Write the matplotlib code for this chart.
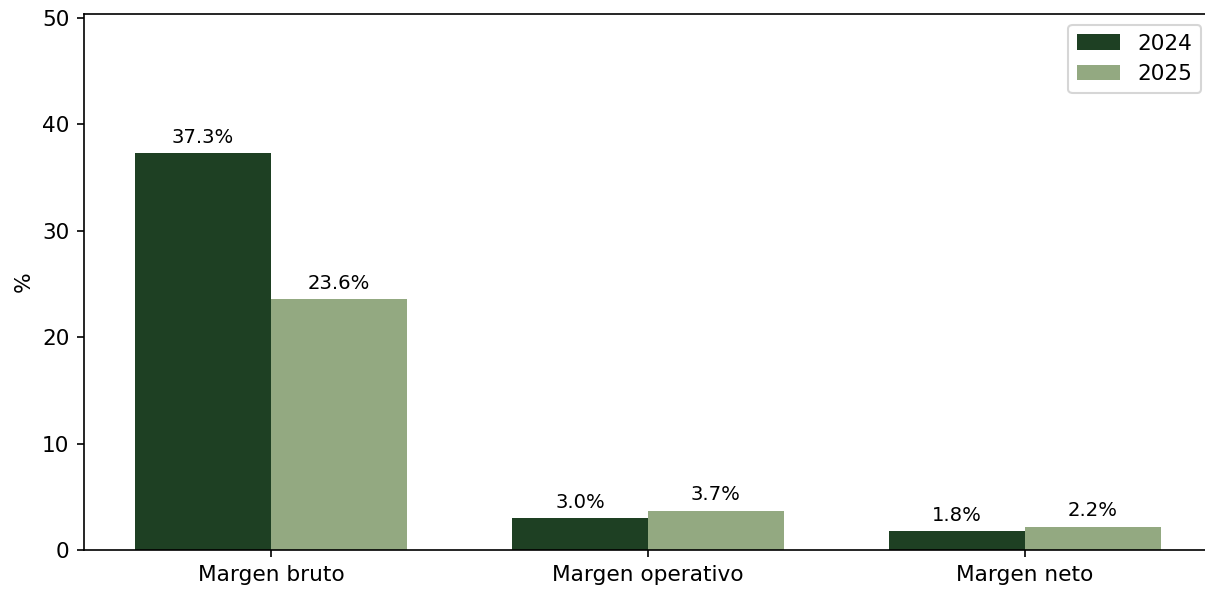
import matplotlib
matplotlib.use("Agg")
import matplotlib.pyplot as plt
import numpy as np

categories = ["Margen bruto", "Margen operativo", "Margen neto"]
values_2024 = [37.3, 3.0, 1.8]
values_2025 = [23.6, 3.7, 2.2]
series_labels = ["2024", "2025"]

plt.rcParams["font.size"] = 10.4

fig = plt.figure(figsize=(1206 / 150, 589 / 150), dpi=150)
# right edge of the axes falls just outside the image, as in the reference
ax = fig.add_axes([84 / 1206, 1 - 550 / 589, 1128 / 1206, 536 / 589])

x = np.arange(len(categories))
w = 0.36
b1 = ax.bar(x - w / 2, values_2024, w, color="#1e4023", label=series_labels[0])
b2 = ax.bar(x + w / 2, values_2025, w, color="#93a981", label=series_labels[1])

for bars in (b1, b2):
    for bar in bars:
        h = bar.get_height()
        ax.annotate(f"{h:.1f}%", (bar.get_x() + bar.get_width() / 2, h),
                    xytext=(0, 3), textcoords="offset points",
                    ha="center", va="bottom", fontsize=9.4)

ax.set_xticks(x)
ax.set_xticklabels(categories)
ax.set_ylim(0, max(values_2024 + values_2025) * 1.35)
ax.set_ylabel("%")
ax.legend(loc="upper right")

fig.savefig("out.png", dpi=150)
